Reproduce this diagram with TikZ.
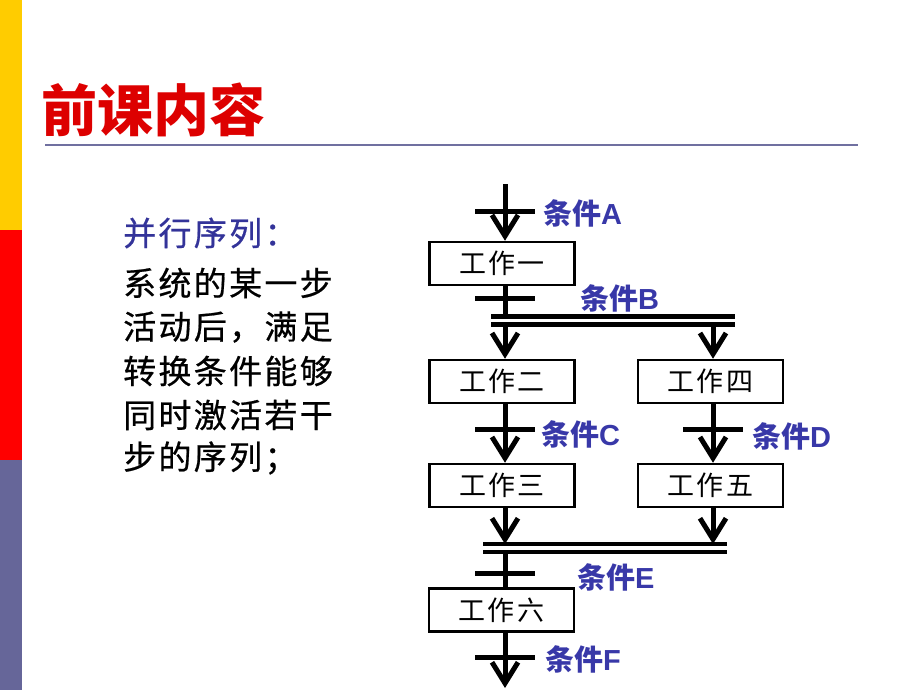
\documentclass[tikz,border=0pt]{standalone}
\usepackage{fontspec}
\usetikzlibrary{arrows.meta}
\newfontfamily\cjk{Noto Sans CJK SC}
\newfontfamily\cjkwide[LetterSpace=7,FakeBold=0.6]{Noto Sans CJK SC}
\newfontfamily\cjkbox[LetterSpace=9]{Noto Sans CJK SC}
\newfontfamily\latb{Liberation Sans}
\definecolor{baryellow}{HTML}{FFCC00}
\definecolor{barred}{HTML}{FF0000}
\definecolor{barblue}{HTML}{666699}
\definecolor{titlered}{HTML}{DD0000}
\definecolor{rulecol}{HTML}{7070A0}
\definecolor{labblue}{HTML}{3838A8}
\definecolor{headblue}{HTML}{333399}
\tikzset{
  stepbox/.style={draw, line width=2.5pt, minimum width=145pt, minimum height=43pt, inner sep=0pt,
    font=\cjkbox\fontsize{27}{27}\selectfont},
  conn/.style={line width=5pt},
  arr/.style={conn, -{Straight Barb[length=21pt,width=26pt]}},
  tick/.style={line width=5pt},
  barline/.style={line width=4.5pt},
  lab/.style={anchor=west, inner sep=0pt, text=labblue, font=\cjk\bfseries\fontsize{29}{29}\selectfont},
  txt/.style={anchor=west, inner sep=0pt, font=\cjkwide\fontsize{33}{33}\selectfont},
}
\begin{document}
\begin{tikzpicture}[x=1pt,y=-1pt]
\useasboundingbox (0,0) rectangle (920,690);
% left colour bar
\fill[baryellow] (0,0) rectangle (22,230);
\fill[barred] (0,230) rectangle (22,460);
\fill[barblue] (0,460) rectangle (22,690);
% title
\node[anchor=west, inner sep=0pt, text=titlered, font=\cjk\bfseries\fontsize{56}{56}\selectfont] (title) at (41,110) {前课内容};
\draw[rulecol, line width=2pt] (45,145) -- (858,145);
% left text
\node[txt, text=headblue] (head) at (123,233) {并行序列：};
\node[txt] (b1) at (123,283) {系统的某一步};
\node[txt] (b2) at (123,327) {活动后，满足};
\node[txt] (b3) at (123,371) {转换条件能够};
\node[txt] (b4) at (123,415) {同时激活若干};
\node[txt] (b5) at (123,458) {步的序列；};
% columns
\coordinate (start) at (505,184);
\coordinate (colR) at (713,184);
% boxes
\node[stepbox] (w1) at (502,263.5) {工作一};
\node[stepbox] (w2) at (502,381.5) {工作二};
\node[stepbox] (w4) at (710.5,381.5) {工作四};
\node[stepbox] (w3) at (502,485.5) {工作三};
\node[stepbox] (w5) at (710.5,485.5) {工作五};
\node[stepbox] (w6) at (501.5,610) {工作六};
% bars
\coordinate (bB1l) at (491,316.5); \coordinate (bB1r) at (735,316.5);
\coordinate (bB2l) at (491,324.5); \coordinate (bB2r) at (735,324.5);
\coordinate (bE1l) at (483,544); \coordinate (bE1r) at (727,544);
\coordinate (bE2l) at (483,552); \coordinate (bE2r) at (727,552);
\coordinate (end) at (505,688);
% ticks
\coordinate (tA) at (505,211);
\coordinate (tB) at (505,298);
\coordinate (tC) at (505,429);
\coordinate (tD) at (713,429);
\coordinate (tE) at (505,573);
\coordinate (tF) at (505,657);
% connectors
\draw[arr] (start) -- (start |- w1.north);
\draw[conn] (start |- w1.south) -- (start |- bB1l);
\draw[arr] (start |- bB2l) -- (start |- w2.north);
\draw[arr] (colR |- bB2l) -- (colR |- w4.north);
\draw[arr] (start |- w2.south) -- (start |- w3.north);
\draw[arr] (colR |- w4.south) -- (colR |- w5.north);
\draw[arr] (start |- w3.south) -- (start |- bE1l);
\draw[arr] (colR |- w5.south) -- (colR |- bE1l);
\draw[conn] (start |- bE2l) -- (start |- w6.north);
\draw[arr] (start |- w6.south) -- (end);
% double bars
\draw[barline] (bB1l) -- (bB1r);
\draw[barline] (bB2l) -- (bB2r);
\draw[barline] (bE1l) -- (bE1r);
\draw[barline] (bE2l) -- (bE2r);
% ticks
\foreach \t in {tA,tB,tC,tD,tE,tF}
  \draw[tick] ([xshift=-30pt]\t) -- ([xshift=30pt]\t);
% labels
\node[lab] (lA) at (543,213) {条件{\latb\bfseries A}};
\node[lab] (lB) at (580,298) {条件{\latb\bfseries B}};
\node[lab] (lC) at (541,434) {条件{\latb\bfseries C}};
\node[lab] (lD) at (752,436) {条件{\latb\bfseries D}};
\node[lab] (lE) at (577,577) {条件{\latb\bfseries E}};
\node[lab] (lF) at (545,659) {条件{\latb\bfseries F}};
\end{tikzpicture}
\end{document}
